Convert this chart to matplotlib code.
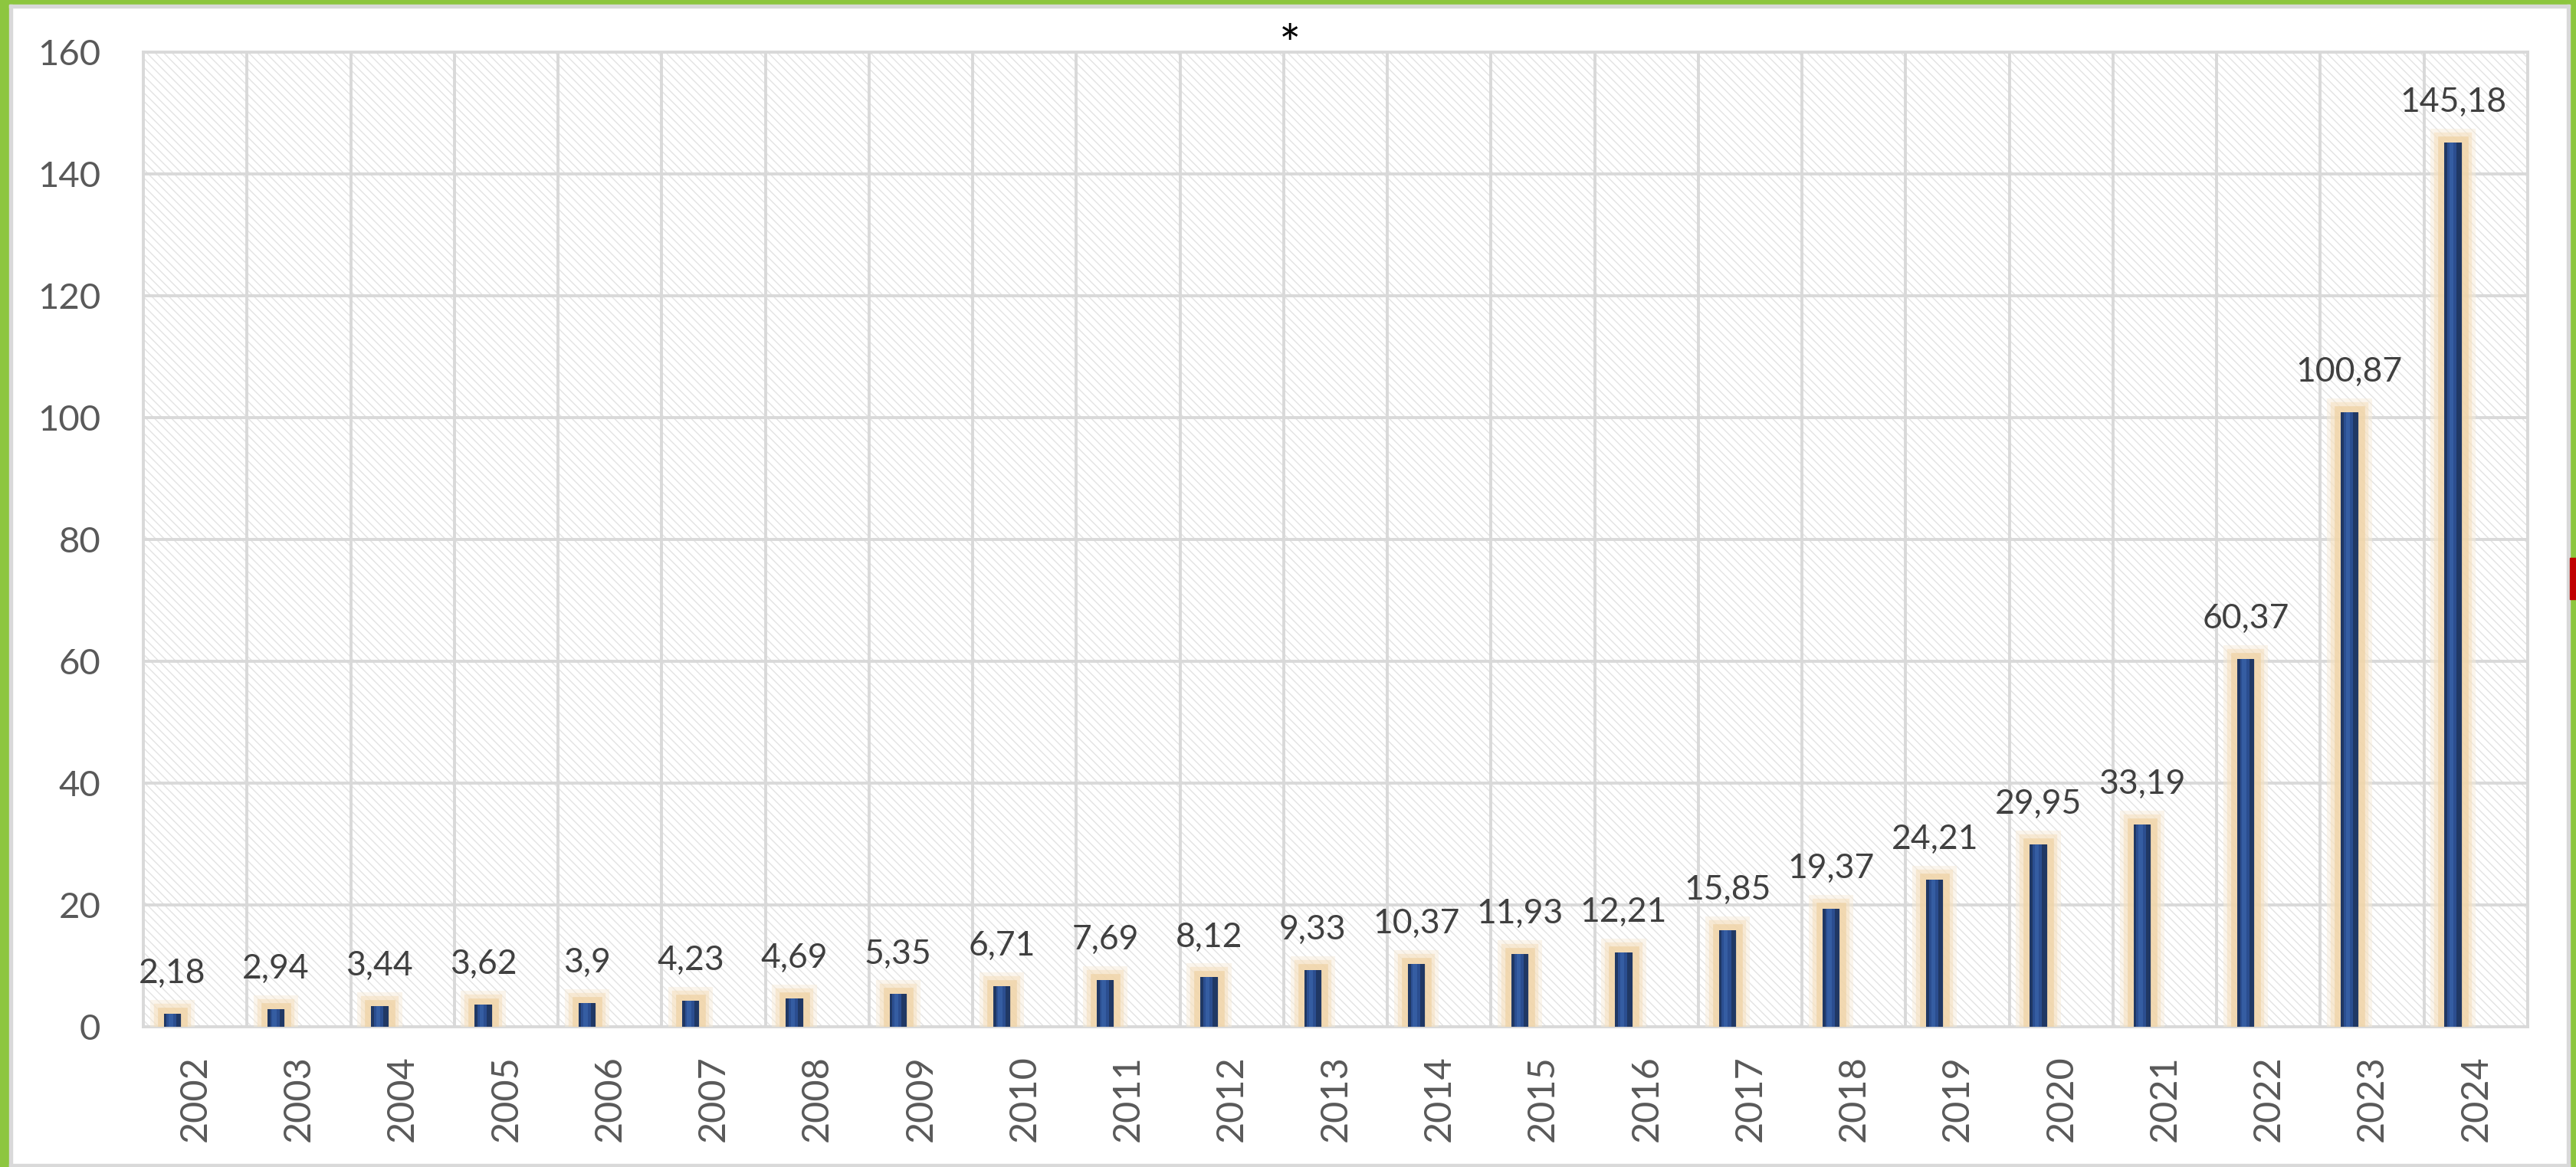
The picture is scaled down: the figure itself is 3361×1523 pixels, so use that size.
import numpy as np
import matplotlib.pyplot as plt
import matplotlib.patheffects as pe
from matplotlib.patches import Rectangle

plt.rcParams['font.family'] = ['Lato', 'DejaVu Sans']
plt.rcParams['hatch.linewidth'] = 1.0

years = ['2002', '2003', '2004', '2005', '2006', '2007', '2008', '2009', '2010', '2011', '2012',
         '2013', '2014', '2015', '2016', '2017', '2018', '2019', '2020', '2021', '2022', '2023', '2024']
values = [2.18, 2.94, 3.44, 3.62, 3.9, 4.23, 4.69, 5.35, 6.71, 7.69, 8.12,
          9.33, 10.37, 11.93, 12.21, 15.85, 19.37, 24.21, 29.95, 33.19, 60.37, 100.87, 145.18]
labels = [str(v).replace('.', ',') for v in values]

W, H = 3361, 1523
fig = plt.figure(figsize=(W / 100, H / 100), dpi=100)
ax = fig.add_axes([187 / W, 1 - 1340 / H, (3298 - 187) / W, (1340 - 68) / H])

# hatched background
ax.patch.set_facecolor('white')
ax.patch.set_edgecolor('#E3E3E3')
ax.patch.set_hatch('\\\\\\')
ax.patch.set_linewidth(0)

x = np.arange(len(years))
xb = x - 0.22

# soft tan glow around each bar
glow = [pe.Stroke(linewidth=26, foreground='#F8EBD6', alpha=0.45),
        pe.Stroke(linewidth=19, foreground='#F4DFBD', alpha=0.55),
        pe.Stroke(linewidth=12, foreground='#EFD3A6', alpha=0.75),
        pe.Normal()]
bars = ax.bar(xb, values, width=0.165, color='#203864', zorder=3)
for b in bars:
    b.set_path_effects(glow)
# lighter core for the gradient look
ax.bar(xb - 0.01, values, width=0.09, color='#2B4E90', zorder=4)
ax.bar(xb - 0.015, values, width=0.04, color='#355DA2', zorder=4)

for xi, v, lab in zip(xb, values, labels):
    ax.annotate(lab, (xi, v), xytext=(0, 23), textcoords='offset points',
                ha='center', va='bottom', fontsize=32, color='#404040', zorder=5)

ax.set_xlim(-0.5, len(years) - 0.5)
ax.set_ylim(0, 160)
ax.set_yticks(range(0, 161, 20))
ax.set_xticks(x)
ax.set_xticklabels(years, rotation=90)
ax.set_xticks(np.arange(-0.5, len(years)), minor=True)
ax.grid(False)
ax.grid(True, which='minor', axis='x', color='#D9D9D9', lw=2.8, zorder=1)
ax.grid(True, which='major', axis='y', color='#D9D9D9', lw=2.8, zorder=1)
ax.set_axisbelow(True)
ax.tick_params(axis='y', length=0, pad=40, labelsize=34, labelcolor='#595959')
ax.tick_params(axis='x', which='both', length=0, pad=27, labelsize=35, labelcolor='#595959')
for s in ax.spines.values():
    s.set_color('#D9D9D9')
    s.set_linewidth(2.8)

# frame: green border with thin gray inner line
green = '#8DC63F'
fig.patches.append(Rectangle((0, 0), 12 / W, 1, transform=fig.transFigure, color=green, zorder=-1))
fig.patches.append(Rectangle((0, 1 - 6 / H), 1, 6 / H, transform=fig.transFigure, color=green, zorder=-1))
fig.patches.append(Rectangle((1 - 8 / W, 0), 8 / W, 1, transform=fig.transFigure, color=green, zorder=-1))
gray = '#D9D9D9'
fig.patches.append(Rectangle((12 / W, 0), 4 / W, 1 - 6 / H, transform=fig.transFigure, color=gray, zorder=-1))
fig.patches.append(Rectangle((12 / W, 1 - 10 / H), 1 - 20 / W, 4 / H, transform=fig.transFigure, color=gray, zorder=-1))
fig.patches.append(Rectangle((1 - 12 / W, 0), 4 / W, 1 - 6 / H, transform=fig.transFigure, color=gray, zorder=-1))
fig.patches.append(Rectangle((12 / W, 0), 1 - 20 / W, 4 / H, transform=fig.transFigure, color=gray, zorder=-1))
fig.patches.append(Rectangle((1 - 8 / W, 1 - 782 / H), 8 / W, 54 / H, transform=fig.transFigure, color='#C00000', zorder=0))

fig.text(1683 / W, 1 - 62 / H, '*', ha='center', va='center', fontsize=48, color='black')

fig.savefig('out.png', dpi=100)
